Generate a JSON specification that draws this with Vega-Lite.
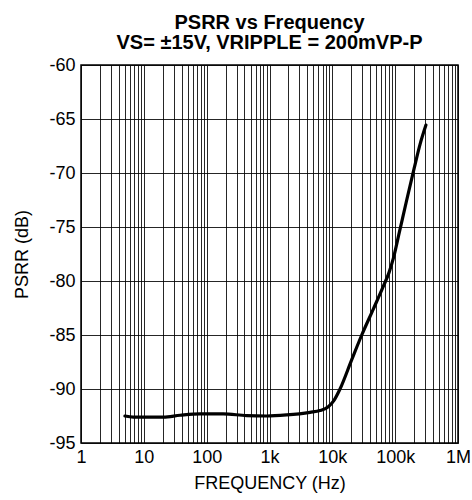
{
  "$schema": "https://vega.github.io/schema/vega-lite/v6.json",
  "width": 377,
  "height": 378,
  "autosize": {"type": "none"},
  "padding": {"left": 81, "top": 65, "right": 14, "bottom": 57},
  "background": "white",
  "title": {
    "text": ["PSRR vs Frequency", "VS= ±15V, VRIPPLE = 200mVP-P"],
    "font": "Liberation Sans",
    "fontSize": 20,
    "fontWeight": "bold",
    "color": "black",
    "lineHeight": 20,
    "anchor": "middle",
    "offset": 3
  },
  "config": {
    "view": {"stroke": "black", "strokeWidth": 1.5},
    "axis": {
      "labelFont": "Liberation Sans",
      "titleFont": "Liberation Sans",
      "labelFontSize": 18,
      "titleFontSize": 18,
      "labelColor": "black",
      "titleColor": "black",
      "titleFontWeight": "normal",
      "ticks": false,
      "domain": false,
      "gridColor": "black",
      "gridOpacity": 0.85,
      "gridWidth": 1
    }
  },
  "data": {
    "values": [
      {"freq": 5.0, "psrr": -92.5},
      {"freq": 6.8, "psrr": -92.6},
      {"freq": 10, "psrr": -92.6},
      {"freq": 20.4, "psrr": -92.6},
      {"freq": 37.7, "psrr": -92.43},
      {"freq": 78, "psrr": -92.3},
      {"freq": 184, "psrr": -92.3},
      {"freq": 434, "psrr": -92.47},
      {"freq": 903, "psrr": -92.5},
      {"freq": 1880, "psrr": -92.4},
      {"freq": 4410, "psrr": -92.16},
      {"freq": 6340, "psrr": -92.0},
      {"freq": 8630, "psrr": -91.64},
      {"freq": 10500, "psrr": -91.1},
      {"freq": 13250, "psrr": -90.0},
      {"freq": 20300, "psrr": -87.3},
      {"freq": 29400, "psrr": -85.0},
      {"freq": 44900, "psrr": -82.6},
      {"freq": 64700, "psrr": -80.5},
      {"freq": 80000, "psrr": -79.2},
      {"freq": 93500, "psrr": -77.9},
      {"freq": 116400, "psrr": -75.5},
      {"freq": 152700, "psrr": -72.5},
      {"freq": 200000, "psrr": -69.6},
      {"freq": 250000, "psrr": -67.3},
      {"freq": 309000, "psrr": -65.56}
    ]
  },
  "mark": {"type": "line", "color": "black", "strokeWidth": 3.2, "interpolate": "monotone", "strokeCap": "round", "clip": true},
  "encoding": {
    "x": {
      "field": "freq",
      "type": "quantitative",
      "scale": {"type": "log", "domain": [1, 1000000], "nice": false},
      "axis": {
        "title": "FREQUENCY (Hz)",
        "values": [1,2,3,4,5,6,7,8,9,10,20,30,40,50,60,70,80,90,100,200,300,400,500,600,700,800,900,1000,2000,3000,4000,5000,6000,7000,8000,9000,10000,20000,30000,40000,50000,60000,70000,80000,90000,100000,200000,300000,400000,500000,600000,700000,800000,900000,1000000],
        "labelExpr": "indexof([1,10,100,1000,10000,100000,1000000], datum.value) >= 0 ? format(datum.value, '~s') : ''",
        "labelOverlap": false,
        "labelBound": false,
        "labelFlush": false,
        "labelPadding": 5,
        "titlePadding": 8
      }
    },
    "y": {
      "field": "psrr",
      "type": "quantitative",
      "scale": {"domain": [-95, -60], "nice": false, "zero": false},
      "axis": {
        "title": "PSRR (dB)",
        "values": [-95, -90, -85, -80, -75, -70, -65, -60],
        "labelExpr": "'-' + abs(datum.value)",
        "labelPadding": 6,
        "titlePadding": 17
      }
    }
  }
}
